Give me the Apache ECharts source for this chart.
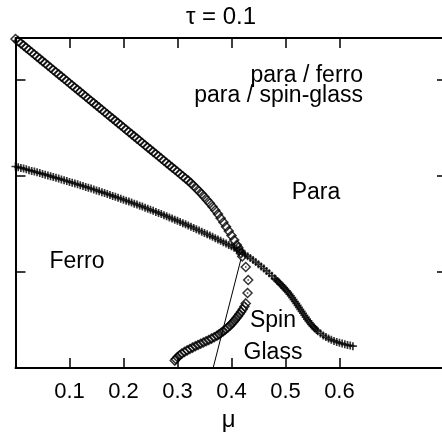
<!DOCTYPE html>
<html>
<head>
<meta charset="utf-8">
<script src="https://cdn.jsdelivr.net/npm/echarts@6/dist/echarts.min.js"></script>
<style>html,body{margin:0;padding:0;background:#fff;}#c{width:442px;height:437px;}</style>
</head>
<body>
<div id="c"></div>
<script>
// ---- data ----
const tickValues = [0.1, 0.2, 0.3, 0.4, 0.5, 0.6];
const yTickValues = [1, 2, 3];

// para / ferro (open diamonds), upper branch
const paraFerroUpper = [
[0.000,3.420],[0.005,3.397],[0.010,3.374],[0.015,3.351],[0.020,3.328],[0.025,3.305],[0.030,3.282],[0.035,3.259],
[0.040,3.236],[0.045,3.213],[0.050,3.190],[0.055,3.167],[0.060,3.144],[0.065,3.121],[0.070,3.098],[0.075,3.075],
[0.080,3.052],[0.085,3.029],[0.090,3.006],[0.095,2.983],[0.100,2.960],[0.105,2.937],[0.110,2.914],[0.115,2.891],
[0.120,2.868],[0.125,2.845],[0.130,2.822],[0.135,2.799],[0.140,2.776],[0.145,2.753],[0.150,2.730],[0.155,2.707],
[0.160,2.684],[0.165,2.661],[0.170,2.638],[0.175,2.615],[0.180,2.592],[0.185,2.569],[0.190,2.546],[0.195,2.523],
[0.200,2.500],[0.205,2.477],[0.210,2.454],[0.215,2.431],[0.220,2.408],[0.225,2.385],[0.230,2.362],[0.235,2.339],
[0.240,2.316],[0.245,2.293],[0.250,2.270],[0.255,2.247],[0.260,2.224],[0.265,2.201],[0.270,2.178],[0.275,2.155],
[0.280,2.132],[0.285,2.109],[0.290,2.086],[0.295,2.063],[0.300,2.040],[0.305,2.017],[0.310,1.994],[0.315,1.971],
[0.320,1.948],[0.325,1.922],[0.330,1.895],[0.335,1.867],[0.340,1.838],[0.345,1.808],[0.350,1.777],[0.355,1.745],
[0.360,1.712],[0.365,1.677],[0.370,1.640],[0.375,1.600],[0.380,1.558],[0.385,1.515],[0.390,1.470],[0.395,1.425],
[0.400,1.378],[0.405,1.330],[0.410,1.280],[0.4125,1.253],[0.415,1.225],[0.4175,1.193],[0.420,1.160]
];
// para / ferro, sparse points below the crossing
const paraFerroSparse = [[0.4265,1.050],[0.431,0.915],[0.4298,0.780],[0.4265,0.672]];
// para / ferro, lower dense branch
const paraFerroLower = [
[0.424,0.640],[0.421,0.612],[0.418,0.586],[0.415,0.562],[0.412,0.540],[0.409,0.518],[0.406,0.497],[0.403,0.477],
[0.400,0.458],[0.397,0.440],[0.393,0.421],[0.389,0.402],[0.385,0.384],[0.381,0.367],[0.377,0.351],[0.373,0.336],
[0.368,0.321],[0.363,0.306],[0.358,0.292],[0.353,0.279],[0.348,0.266],[0.343,0.253],[0.338,0.240],[0.333,0.227],
[0.328,0.213],[0.323,0.199],[0.318,0.184],[0.313,0.168],[0.308,0.151],[0.304,0.133],[0.300,0.114],[0.297,0.095],
[0.295,0.078]
];
// para / spin-glass (plus markers)
const paraSpinGlass = [
[0.000,2.095],[0.005,2.088],[0.010,2.080],[0.015,2.073],[0.020,2.065],[0.025,2.057],[0.030,2.049],[0.035,2.042],
[0.040,2.034],[0.045,2.026],[0.050,2.018],[0.055,2.010],[0.060,2.002],[0.065,1.994],[0.070,1.985],[0.075,1.977],
[0.080,1.969],[0.085,1.961],[0.090,1.952],[0.095,1.944],[0.100,1.935],[0.105,1.927],[0.110,1.918],[0.115,1.910],
[0.120,1.901],[0.125,1.892],[0.130,1.883],[0.135,1.874],[0.140,1.865],[0.145,1.856],[0.150,1.846],[0.155,1.837],
[0.160,1.828],[0.165,1.819],[0.170,1.809],[0.175,1.799],[0.180,1.789],[0.185,1.780],[0.190,1.770],[0.195,1.760],
[0.200,1.750],[0.205,1.740],[0.210,1.730],[0.215,1.720],[0.220,1.709],[0.225,1.699],[0.230,1.688],[0.235,1.678],
[0.240,1.667],[0.245,1.656],[0.250,1.645],[0.255,1.634],[0.260,1.623],[0.265,1.612],[0.270,1.600],[0.275,1.589],
[0.280,1.577],[0.285,1.566],[0.290,1.554],[0.295,1.542],[0.300,1.530],[0.305,1.518],[0.310,1.506],[0.315,1.494],
[0.320,1.481],[0.325,1.469],[0.330,1.456],[0.335,1.443],[0.340,1.430],[0.345,1.417],[0.350,1.404],[0.355,1.391],
[0.360,1.377],[0.365,1.364],[0.370,1.350],[0.375,1.336],[0.380,1.322],[0.385,1.308],[0.390,1.294],[0.395,1.280],
[0.400,1.265],[0.405,1.250],[0.410,1.234],[0.415,1.217],[0.420,1.200],[0.425,1.182],[0.430,1.163],[0.435,1.143],
[0.440,1.123],[0.445,1.102],[0.450,1.080],[0.455,1.057],[0.460,1.034],[0.465,1.010],[0.470,0.985],[0.475,0.959],
[0.480,0.933],[0.4825,0.920],[0.485,0.906],[0.4875,0.892],[0.490,0.878],[0.4925,0.864],[0.495,0.849],[0.4975,0.834],
[0.500,0.819],[0.5025,0.803],[0.505,0.786],[0.5075,0.769],[0.510,0.752],[0.5125,0.732],[0.515,0.712],[0.5175,0.692],
[0.520,0.672],[0.5225,0.652],[0.525,0.631],[0.5275,0.611],[0.530,0.590],[0.5325,0.570],[0.535,0.549],[0.5375,0.529],
[0.540,0.508],[0.5425,0.490],[0.545,0.472],[0.5475,0.455],[0.550,0.438],[0.5525,0.423],[0.555,0.409],[0.5575,0.396],
[0.560,0.383],[0.565,0.360],[0.570,0.340],[0.575,0.322],[0.580,0.307],[0.585,0.294],[0.590,0.282],[0.595,0.272],
[0.600,0.263],[0.605,0.255],[0.610,0.247],[0.615,0.240],[0.620,0.234],[0.625,0.228]
];
// ferro / spin-glass boundary (thin line)
const boundaryLine = [[0.366,0.0],[0.4175,1.13]];

// ---- chart ----
const FONT = '"Liberation Sans", Arial, Helvetica, sans-serif';
const chart = echarts.init(document.getElementById('c'), null, {renderer:'canvas'});
const axisCommon = {
  type:'value', min:0, max:0.79,
  axisLine:{show:true, onZero:false, lineStyle:{color:'#000', width:2}},
  axisTick:{show:true, inside:true, length:10, customValues:tickValues, lineStyle:{color:'#000', width:1.5}},
  splitLine:{show:false}
};
const yCommon = {
  type:'value', min:0, max:3.43,
  axisLine:{show:true, onZero:false, lineStyle:{color:'#000', width:2}},
  axisTick:{show:true, inside:true, length:10, customValues:yTickValues, lineStyle:{color:'#000', width:1.5}},
  axisLabel:{show:false},
  splitLine:{show:false}
};
const plusPath = 'path://M0,5L10,5M5,0L5,10';
chart.setOption({
  animation:false,
  backgroundColor:'#fff',
  title:{text:'τ = 0.1', left:'center', top:5, padding:0,
    textStyle:{fontSize:24, fontWeight:'normal', color:'#000', fontFamily:FONT}},
  grid:{left:15.5, right:0, top:38, bottom:65, containLabel:false},
  xAxis:[
    Object.assign({}, axisCommon, {position:'bottom',
      axisLabel:{show:true, customValues:tickValues, fontSize:22, color:'#000', fontFamily:FONT, margin:13},
      name:'μ', nameLocation:'middle', nameGap:23,
      nameTextStyle:{fontSize:24, color:'#000', fontFamily:FONT}}),
    Object.assign({}, axisCommon, {position:'top', axisLabel:{show:false}})
  ],
  yAxis:[
    Object.assign({}, yCommon, {position:'left'}),
    Object.assign({}, yCommon, {position:'right',
      axisLine:{show:false, onZero:false},
      axisTick:{show:true, inside:true, length:5, customValues:yTickValues, lineStyle:{color:'#000', width:1.5}}})
  ],
  series:[
    {type:'scatter', name:'para / ferro', clip:false, silent:true,
     data: paraFerroUpper.concat(paraFerroSparse, paraFerroLower),
     symbol:'diamond', symbolSize:9,
     itemStyle:{color:'rgba(0,0,0,0)', borderColor:'#000', borderWidth:1.5}},
    {type:'scatter', clip:false, silent:true, data: paraFerroSparse,
     symbol:'rect', symbolSize:1.5, itemStyle:{color:'#000'}},
    {type:'scatter', name:'para / spin-glass', clip:false, silent:true,
     data: paraSpinGlass, symbol: plusPath, symbolSize:8,
     itemStyle:{color:'rgba(0,0,0,0)', borderColor:'#000', borderWidth:1.7}},
    {type:'line', silent:true, data: boundaryLine, showSymbol:false, symbol:'none',
     lineStyle:{color:'#000', width:1}}
  ],
  graphic:[
    {type:'text', x:363, y:76, style:{text:'para / ferro', fill:'#000', font:'23px ' + FONT, align:'right', verticalAlign:'middle'}},
    {type:'text', x:363, y:95.5, style:{text:'para / spin-glass', fill:'#000', font:'23px ' + FONT, align:'right', verticalAlign:'middle'}},
    {type:'text', x:316, y:192.5, style:{text:'Para', fill:'#000', font:'23px ' + FONT, align:'center', verticalAlign:'middle'}},
    {type:'text', x:77, y:261.5, style:{text:'Ferro', fill:'#000', font:'23px ' + FONT, align:'center', verticalAlign:'middle'}},
    {type:'text', x:273, y:321, style:{text:'Spin', fill:'#000', font:'23px ' + FONT, align:'center', verticalAlign:'middle'}},
    {type:'text', x:273, y:353, style:{text:'Glass', fill:'#000', font:'23px ' + FONT, align:'center', verticalAlign:'middle'}}
  ]
});
</script>
</body>
</html>
